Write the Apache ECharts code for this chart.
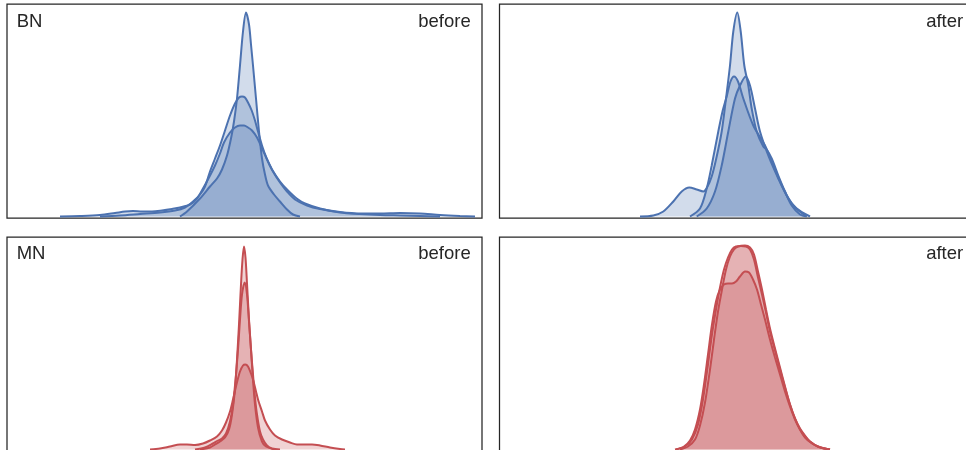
<!DOCTYPE html>
<html>
<head>
<meta charset="utf-8">
<script src="https://cdn.jsdelivr.net/npm/echarts@6/dist/echarts.min.js"></script>
<style>
html,body{margin:0;padding:0;background:#fff;}
#chart{width:966px;height:450px;}
</style>
</head>
<body>
<div id="chart"></div>
<script>
// ---- Data: KDE curves [x, density] ----
var rowNames = ['BN', 'MN'];
var colNames = ['before', 'after'];

var bnBeforeA = [[-6.45,0],[-5.75,0.05],[-4.45,0.18],[-3.45,0.30],[-2.75,0.38],[-2.25,0.47],[-1.75,0.61],[-1.35,0.78],[-1.05,0.95],[-0.75,1.18],[-0.45,1.51],[-0.15,1.85],[0.15,2.04],[0.45,1.92],[0.65,1.72],[0.85,1.51],[1.15,1.18],[1.45,0.85],[1.75,0.58],[2.05,0.42],[2.35,0.31],[2.95,0.22],[3.55,0.15],[4.25,0.07],[4.85,0.02],[5.55,0]];
var bnBeforeB = [[-14.45,0],[-12.45,0.01],[-10.45,0.025],[-8.45,0.04],[-6.95,0.06],[-5.95,0.09],[-5.15,0.15],[-4.45,0.22],[-3.95,0.30],[-3.45,0.45],[-2.95,0.58],[-2.45,0.71],[-1.95,0.86],[-1.45,1.01],[-0.95,1.13],[-0.55,1.19],[-0.25,1.20],[0.05,1.19],[0.35,1.14],[0.72,1.06],[1.05,0.96],[1.35,0.85],[1.75,0.71],[2.22,0.58],[2.75,0.47],[3.55,0.35],[4.35,0.26],[5.22,0.18],[6.05,0.13],[7.55,0.08],[9.55,0.04],[11.55,0.025],[13.55,0.015],[15.55,0.01],[17.55,0.005],[19.55,0]];
var bnBeforeC = [[-18.45,0],[-16.45,0.005],[-14.45,0.015],[-12.95,0.035],[-11.95,0.05],[-11.15,0.055],[-10.25,0.05],[-9.25,0.05],[-8.25,0.06],[-7.25,0.075],[-6.45,0.09],[-5.45,0.12],[-4.75,0.18],[-4.15,0.28],[-3.55,0.39],[-2.95,0.51],[-2.45,0.63],[-2.05,0.74],[-1.45,0.84],[-0.95,0.89],[-0.45,0.91],[-0.05,0.91],[0.35,0.89],[0.75,0.86],[1.25,0.79],[1.85,0.66],[2.35,0.55],[2.85,0.45],[3.55,0.34],[4.25,0.25],[5.05,0.17],[6.25,0.11],[7.55,0.075],[9.55,0.045],[11.55,0.03],[13.55,0.03],[15.55,0.035],[17.55,0.03],[19.55,0.015],[21.55,0.005],[23.05,0]];

var bnAfterA = [[-9.7,0],[-8.37,0.01],[-7.37,0.05],[-6.37,0.15],[-5.53,0.25],[-4.77,0.29],[-4.03,0.27],[-3.37,0.25],[-3.0,0.29],[-2.53,0.40],[-2.03,0.60],[-1.53,0.85],[-1.1,1.18],[-0.7,1.51],[-0.37,1.85],[0.03,2.04],[0.37,1.85],[0.73,1.51],[1.13,1.31],[1.47,1.08],[1.97,0.85],[2.63,0.70],[2.97,0.67],[3.47,0.58],[4.13,0.41],[4.8,0.25],[5.47,0.11],[6.3,0.02],[6.97,0]];
var bnAfterB = [[-4.7,0],[-3.7,0.08],[-3.03,0.28],[-2.53,0.51],[-1.87,0.85],[-1.45,1.05],[-1.03,1.20],[-0.65,1.35],[-0.3,1.40],[0.1,1.35],[0.63,1.18],[1.63,0.91],[2.8,0.71],[3.63,0.51],[4.63,0.28],[5.63,0.11],[6.97,0]];
var bnAfterC = [[-4.03,0],[-3.03,0.08],[-2.2,0.25],[-1.53,0.51],[-0.87,0.85],[-0.2,1.18],[0.3,1.31],[0.87,1.40],[1.3,1.31],[1.8,1.08],[2.3,0.85],[3.13,0.61],[4.13,0.38],[5.13,0.18],[5.97,0.08],[7.3,0]];

var mnBeforeA = [[-4.45,0],[-3.45,0.02],[-2.95,0.05],[-2.45,0.08],[-1.95,0.12],[-1.55,0.20],[-1.25,0.35],[-0.95,0.60],[-0.75,0.90],[-0.55,1.25],[-0.35,1.65],[-0.2,1.90],[-0.05,2.03],[0.1,1.92],[0.25,1.66],[0.45,1.30],[0.65,1.00],[0.85,0.70],[1.05,0.45],[1.35,0.22],[1.75,0.08],[2.15,0.03],[3.05,0]];
var mnBeforeB = [[-4.95,0],[-3.95,0.02],[-3.15,0.06],[-2.65,0.09],[-2.25,0.11],[-1.85,0.16],[-1.45,0.28],[-1.15,0.45],[-0.85,0.75],[-0.65,1.00],[-0.45,1.30],[-0.25,1.55],[0.02,1.67],[0.25,1.55],[0.45,1.28],[0.65,1.00],[0.85,0.75],[1.05,0.52],[1.25,0.35],[1.55,0.18],[1.85,0.10],[2.25,0.04],[2.75,0.01],[3.55,0]];
var mnBeforeC = [[-9.45,0],[-8.45,0.01],[-7.45,0.03],[-6.45,0.05],[-5.75,0.05],[-4.95,0.045],[-4.15,0.06],[-3.45,0.09],[-2.75,0.13],[-2.25,0.19],[-1.85,0.27],[-1.45,0.38],[-1.15,0.50],[-0.78,0.66],[-0.45,0.78],[-0.15,0.84],[0.08,0.85],[0.35,0.83],[0.65,0.76],[0.88,0.69],[1.15,0.58],[1.38,0.49],[1.75,0.38],[2.05,0.29],[2.55,0.20],[3.05,0.14],[3.75,0.10],[4.55,0.07],[5.25,0.05],[6.05,0.05],[6.75,0.05],[7.55,0.04],[8.55,0.02],[9.55,0.005],[10.05,0]];

var mnAfterA = [[-6.2,0],[-5.2,0.03],[-4.5,0.10],[-3.9,0.25],[-3.4,0.50],[-2.9,0.85],[-2.5,1.15],[-2.1,1.40],[-1.7,1.62],[-1.3,1.80],[-0.9,1.92],[-0.5,2.00],[-0.1,2.03],[0.4,2.035],[0.9,2.03],[1.3,2.00],[1.7,1.90],[2.1,1.72],[2.5,1.55],[2.9,1.37],[3.3,1.18],[3.8,0.99],[4.3,0.80],[4.8,0.62],[5.3,0.45],[5.8,0.31],[6.3,0.20],[6.8,0.12],[7.5,0.06],[8.3,0.02],[9.3,0]];
var mnAfterB = [[-5.7,0],[-4.9,0.03],[-4.2,0.10],[-3.7,0.24],[-3.2,0.47],[-2.7,0.80],[-2.3,1.10],[-1.9,1.38],[-1.5,1.60],[-1.1,1.80],[-0.7,1.93],[-0.3,2.00],[0.1,2.03],[0.8,2.04],[1.3,2.02],[1.7,1.95],[2.1,1.78],[2.5,1.60],[2.9,1.40],[3.3,1.21],[3.8,1.01],[4.3,0.82],[4.8,0.63],[5.3,0.45],[5.8,0.31],[6.3,0.21],[6.8,0.14],[7.3,0.08],[8.1,0.03],[9.3,0]];
var mnAfterC = [[-6.1,0],[-5.3,0.03],[-4.7,0.09],[-4.2,0.20],[-3.7,0.40],[-3.3,0.65],[-2.9,0.95],[-2.5,1.25],[-2.1,1.48],[-1.7,1.60],[-1.3,1.65],[-0.9,1.66],[-0.5,1.66],[-0.1,1.68],[0.3,1.73],[0.8,1.78],[1.2,1.77],[1.6,1.70],[2.0,1.60],[2.4,1.45],[2.8,1.30],[3.3,1.10],[3.8,0.92],[4.3,0.75],[4.8,0.58],[5.3,0.43],[5.8,0.30],[6.3,0.20],[6.8,0.13],[7.3,0.08],[8.1,0.03],[9.3,0]];

// ---- Layout & style ----
var BLUE = '#4C72B0', RED = '#C44E52', INK = '#262626';
var FONT = '"Liberation Sans", Arial, Helvetica, sans-serif';
var FS = 18.5;
var panelW = 475, panelH = 214;
var lefts = [7, 499.5], tops = [4, 237];
var baselines = [28, 260];

var panels = [
  {row: 0, col: 0, color: BLUE, curves: [bnBeforeA, bnBeforeB, bnBeforeC]},
  {row: 0, col: 1, color: BLUE, curves: [bnAfterA, bnAfterB, bnAfterC]},
  {row: 1, col: 0, color: RED, curves: [mnBeforeA, mnBeforeB, mnBeforeC]},
  {row: 1, col: 1, color: RED, curves: [mnAfterA, mnAfterB, mnAfterC]}
];

var grids = [], xAxes = [], yAxes = [], series = [], graphics = [];
panels.forEach(function (p, i) {
  grids.push({left: lefts[p.col], top: tops[p.row], width: panelW, height: panelH,
    outerBoundsMode: 'none', containLabel: false,
    show: true, borderColor: INK, borderWidth: 1.25, backgroundColor: 'transparent'});
  xAxes.push({type: 'value', gridIndex: i, min: -23.75, max: 23.75, show: false});
  yAxes.push({type: 'value', gridIndex: i, min: -0.015, max: 2.125, show: false});
  p.curves.forEach(function (c) {
    series.push({type: 'line', xAxisIndex: i, yAxisIndex: i, data: c, smooth: 0.3,
      symbol: 'none', silent: true, animation: false, clip: true,
      lineStyle: {color: p.color, width: 2},
      areaStyle: {color: p.color, opacity: 0.25, origin: 0}});
  });
  var yMid = baselines[p.row] - 0.3465 * FS;
  if (p.col === 0) {
    graphics.push({type: 'text', x: lefts[p.col] + 9.7, y: yMid, z: 100,
      style: {text: rowNames[p.row], font: FS + 'px ' + FONT, fill: INK, align: 'left', verticalAlign: 'middle'}});
  }
  graphics.push({type: 'text', x: lefts[p.col] + panelW - 11.3, y: yMid, z: 100,
    style: {text: colNames[p.col], font: FS + 'px ' + FONT, fill: INK, align: 'right', verticalAlign: 'middle'}});
});

var chart = echarts.init(document.getElementById('chart'), null, {renderer: 'canvas'});
chart.setOption({
  animation: false,
  backgroundColor: '#ffffff',
  grid: grids, xAxis: xAxes, yAxis: yAxes, series: series, graphic: graphics
});
</script>
</body>
</html>
